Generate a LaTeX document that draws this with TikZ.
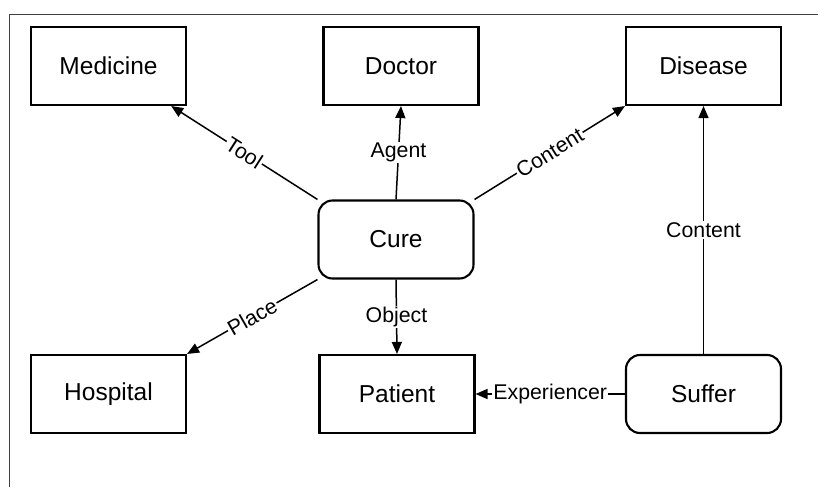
\documentclass[tikz,border=0pt]{standalone}
\usepackage{fontspec}
\setmainfont{Liberation Sans}
\usetikzlibrary{arrows.meta}
\begin{document}
\begin{tikzpicture}[x=1pt,y=-1pt,
  concept/.style={draw,line width=2.1pt,minimum width=155pt,minimum height=78pt,
    inner sep=0pt,font=\fontsize{24.5}{28}\selectfont},
  event/.style={concept,rounded corners=14pt},
  rel/.style={line width=1.5pt,-{Triangle[length=12pt,width=10pt]}},
  lbl/.style={fill=white,inner sep=1.2pt,font=\fontsize{21.3}{24}\selectfont},
]
\useasboundingbox (0,0) rectangle (818,487);
% page frame
\draw[line width=0.9pt,black!75] (818,14) -- (9,14) -- (9,487);

% concepts
\node[concept] (medicine) at (108.5,66) {Medicine};
\node[concept] (doctor)   at (401,66)   {Doctor};
\node[concept] (disease)  at (703.5,66) {Disease};
\node[event]   (cure)     at (396,239.5){Cure};
\node[concept] (hospital) at (108.5,394){Hospital};
\node[concept] (patient)  at (397,394)  {Patient};
\node[event]   (suffer)   at (703.5,394){Suffer};

% relations
\draw[rel] (cure.north west) -- node[lbl,sloped] {Tool} (medicine);
\draw[rel] (cure.north) -- node[lbl] {Agent} (doctor.south);
\draw[rel] (cure.north east) -- node[lbl,sloped] {Content} (disease.south west);
\draw[rel] (cure.south west) -- node[lbl,sloped] {Place} (hospital.north east);
\draw[rel] (cure.south) -- node[lbl] {Object} (patient.north);
\draw[rel] (suffer.west) -- node[lbl] {Experiencer} (patient.east);
\draw[rel] (suffer.north) -- node[lbl] {Content} (disease.south);
\end{tikzpicture}
\end{document}
